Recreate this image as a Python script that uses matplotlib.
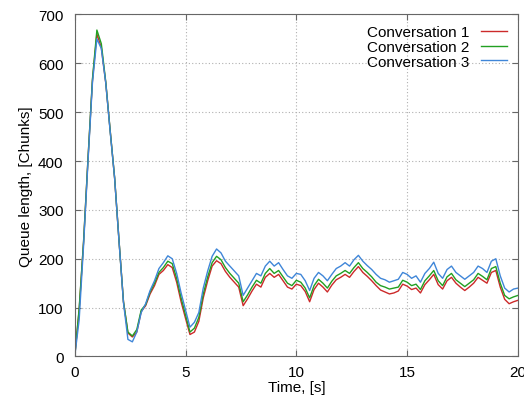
import numpy as np
import matplotlib
matplotlib.use("Agg")
import matplotlib.pyplot as plt

plt.rcParams['font.family'] = ['Liberation Sans', 'DejaVu Sans']

# time samples, [s]
time = np.linspace(0, 20, 101)

# queue length readings, [chunks]
conv1 = [0, 95, 235, 405, 565, 660, 632, 560, 462, 365, 236, 112, 48, 40, 50, 92,
         104, 128, 145, 168, 176, 188, 182, 152, 112, 78, 45, 50, 72, 120, 155,
         185, 196, 190, 174, 162, 152, 142, 104, 118, 134, 148, 142, 162, 170,
         162, 168, 155, 142, 138, 148, 145, 133, 112, 137, 150, 142, 132, 146,
         157, 162, 168, 162, 174, 184, 172, 164, 155, 145, 136, 132, 128, 130,
         134, 148, 144, 137, 140, 130, 147, 157, 168, 147, 138, 155, 162, 150,
         142, 135, 142, 150, 162, 156, 150, 172, 176, 142, 117, 108, 112, 115]
conv2 = [0, 98, 236, 406, 568, 668, 640, 562, 462, 366, 236, 112, 50, 42, 55, 95,
         106, 132, 150, 172, 182, 195, 190, 160, 120, 85, 50, 58, 80, 128, 163,
         192, 205, 198, 182, 170, 160, 150, 112, 126, 142, 156, 150, 170, 180,
         170, 176, 163, 150, 145, 156, 152, 140, 120, 145, 158, 150, 140, 154,
         165, 170, 176, 170, 182, 192, 180, 172, 163, 152, 145, 142, 138, 140,
         142, 156, 152, 145, 148, 137, 155, 165, 176, 155, 145, 163, 170, 157,
         150, 143, 150, 157, 170, 164, 157, 180, 184, 150, 125, 118, 122, 125]
conv3 = [0, 75, 228, 400, 560, 650, 630, 560, 460, 365, 235, 110, 35, 30, 50, 90,
         108, 135, 155, 180, 192, 206, 200, 170, 130, 95, 60, 70, 90, 140, 175,
         205, 220, 212, 195, 185, 175, 165, 125, 140, 155, 170, 165, 185, 195,
         185, 192, 178, 165, 160, 170, 168, 155, 135, 160, 172, 165, 155, 168,
         180, 185, 192, 185, 198, 207, 195, 186, 178, 168, 160, 157, 152, 155,
         158, 172, 168, 160, 165, 152, 170, 180, 193, 170, 160, 178, 185, 172,
         165, 158, 165, 172, 185, 180, 172, 195, 200, 165, 140, 132, 138, 140]

fig = plt.figure(figsize=(5.24, 4.02), dpi=100)
ax = fig.add_axes([0.1426, 0.1107, 0.8459, 0.851])

ax.plot(time, conv1, color='#cc2a2a', lw=1.0, label='Conversation 1')
ax.plot(time, conv2, color='#22a022', lw=1.0, label='Conversation 2')
ax.plot(time, conv3, color='#3f86d8', lw=1.0, label='Conversation 3')

ax.set_xlim(0, 20)
ax.set_ylim(0, 700)
ax.set_xticks([0, 5, 10, 15, 20])
ax.set_yticks(range(0, 701, 100))
ax.grid(True, color='#b0b0b0', linestyle=(0, (1, 2)), linewidth=0.8)
ax.tick_params(direction='in', top=True, right=True, length=4,
               color='#666666', labelsize=11)
ax.tick_params(axis='y', pad=8)
ax.tick_params(axis='x', pad=6)
for s in ax.spines.values():
    s.set_color('#666666')

ax.set_xlabel('Time, [s]', fontsize=11, labelpad=1)
ax.set_ylabel('Queue length, [Chunks]', fontsize=11, labelpad=4)

ax.legend(loc='upper right', frameon=False, markerfirst=False, fontsize=11,
          handlelength=1.7, handletextpad=0.8, labelspacing=0.05,
          borderaxespad=0.3)

fig.savefig('out.png', dpi=100)
